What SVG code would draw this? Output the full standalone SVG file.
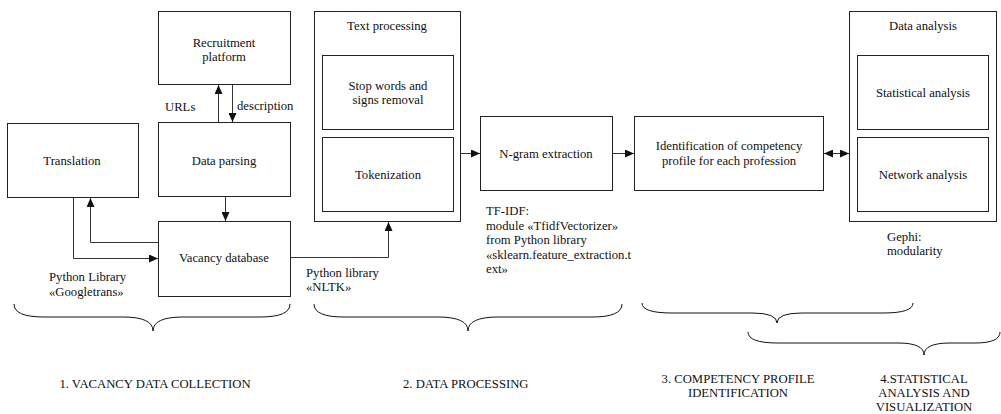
<svg xmlns="http://www.w3.org/2000/svg" width="1001" height="414" viewBox="0 0 1001 414" font-family="Liberation Serif, Times New Roman, serif">
  <style>
    .box { fill: #fff; stroke: #222; stroke-width: 1; }
    .ln { fill: none; stroke: #333; stroke-width: 1; }
    .brace { fill: none; stroke: #111; stroke-width: 1; }
    text { font-size: 12.7px; fill: #111; }
    .c { text-anchor: middle; }
  </style>
  <defs>
    <marker id="ah" markerUnits="userSpaceOnUse" markerWidth="9" markerHeight="8" refX="9" refY="4" orient="auto-start-reverse">
      <path d="M0,0 L9,4 L0,8 Z" fill="#111"/>
    </marker>
  </defs>

  <g id="recruitment-platform">
    <rect class="box" x="158.5" y="11.5" width="132" height="73"/>
    <text class="c" x="224" y="47">Recruitment</text>
    <text class="c" x="224" y="61">platform</text>
  </g>

  <g id="data-parsing">
    <rect class="box" x="158.5" y="122.5" width="132" height="74"/>
    <text class="c" x="224" y="165">Data parsing</text>
  </g>

  <g id="translation">
    <rect class="box" x="7.5" y="123.5" width="131" height="74"/>
    <text class="c" x="72" y="165">Translation</text>
  </g>

  <g id="vacancy-database">
    <rect class="box" x="158.5" y="221.5" width="132" height="75"/>
    <text class="c" x="224" y="262">Vacancy database</text>
  </g>

  <g id="text-processing">
    <rect class="box" x="314.5" y="11.5" width="146" height="210"/>
    <text class="c" x="387" y="30">Text processing</text>
    <g id="stop-words">
      <rect class="box" x="322.5" y="55.5" width="131" height="74"/>
      <text class="c" x="388" y="90">Stop words and</text>
      <text class="c" x="388" y="104">signs removal</text>
    </g>
    <g id="tokenization">
      <rect class="box" x="322.5" y="137.5" width="131" height="74"/>
      <text class="c" x="388" y="179">Tokenization</text>
    </g>
  </g>

  <g id="ngram-extraction">
    <rect class="box" x="480.5" y="116.5" width="132" height="74"/>
    <text class="c" x="546" y="158">N-gram extraction</text>
  </g>

  <g id="competency-profile">
    <rect class="box" x="634.5" y="116.5" width="189" height="74"/>
    <text class="c" x="729" y="150">Identification of competency</text>
    <text class="c" x="729" y="165">profile for each profession</text>
  </g>

  <g id="data-analysis">
    <rect class="box" x="849.5" y="11.5" width="147" height="210"/>
    <text class="c" x="923" y="30">Data analysis</text>
    <g id="statistical-analysis">
      <rect class="box" x="857.5" y="55.5" width="131" height="74"/>
      <text class="c" x="923" y="97">Statistical analysis</text>
    </g>
    <g id="network-analysis">
      <rect class="box" x="857.5" y="137.5" width="131" height="74"/>
      <text class="c" x="923" y="179">Network analysis</text>
    </g>
  </g>

  <g id="connectors">
    <line class="ln" x1="218.5" y1="122" x2="218.5" y2="85" marker-end="url(#ah)"/>
    <line class="ln" x1="232.5" y1="85" x2="232.5" y2="122" marker-end="url(#ah)"/>
    <line class="ln" x1="225.5" y1="197" x2="225.5" y2="221" marker-end="url(#ah)"/>
    <polyline class="ln" points="73.5,198 73.5,258.5 158,258.5" marker-end="url(#ah)"/>
    <polyline class="ln" points="158,242.5 90.5,242.5 90.5,198" marker-end="url(#ah)"/>
    <polyline class="ln" points="291,257.5 388.5,257.5 388.5,222" marker-end="url(#ah)"/>
    <line class="ln" x1="461" y1="153.5" x2="480" y2="153.5" marker-end="url(#ah)"/>
    <line class="ln" x1="613" y1="153.5" x2="634" y2="153.5" marker-end="url(#ah)"/>
    <line class="ln" x1="824" y1="153.5" x2="849" y2="153.5" marker-start="url(#ah)" marker-end="url(#ah)"/>
  </g>

  <g id="annotations">
    <text x="165" y="111">URLs</text>
    <text x="237" y="110">description</text>
    <text x="49" y="281">Python Library</text>
    <text x="49" y="296">«Googletrans»</text>
    <text x="306" y="277">Python library</text>
    <text x="306" y="291">«NLTK»</text>
    <text x="486" y="215">TF-IDF:</text>
    <text x="486" y="230">module «TfidfVectorizer»</text>
    <text x="486" y="244">from Python library</text>
    <text x="486" y="259">«sklearn.feature_extraction.t</text>
    <text x="486" y="273">ext»</text>
    <text x="887" y="241">Gephi:</text>
    <text x="887" y="255">modularity</text>
  </g>

  <g id="stages">
    <path class="brace" d="M14,304 Q14,317 44,317 L123,317 Q153,317 153,331 Q153,317 183,317 L260,317 Q290,317 290,304"/>
    <path class="brace" d="M314,304 Q314,317 344,317 L438,317 Q468,317 468,331 Q468,317 498,317 L592,317 Q622,317 622,304"/>
    <path class="brace" d="M642,303 Q642,313 672,313 L752,313 Q777,313 777,323 Q777,313 802,313 L883,313 Q913,313 913,303"/>
    <path class="brace" d="M748,332 Q748,343 778,343 L898,343 Q924,343 924,355 Q924,343 950,343 L975,343 Q1000,343 1000,332"/>
    <text class="c" x="155" y="388">1. VACANCY DATA COLLECTION</text>
    <text x="403" y="388">2. DATA PROCESSING</text>
    <text class="c" x="738" y="383">3. COMPETENCY PROFILE</text>
    <text class="c" x="738" y="397">IDENTIFICATION</text>
    <text class="c" x="924" y="383">4.STATISTICAL</text>
    <text class="c" x="924" y="397">ANALYSIS AND</text>
    <text class="c" x="924" y="411">VISUALIZATION</text>
  </g>
</svg>
